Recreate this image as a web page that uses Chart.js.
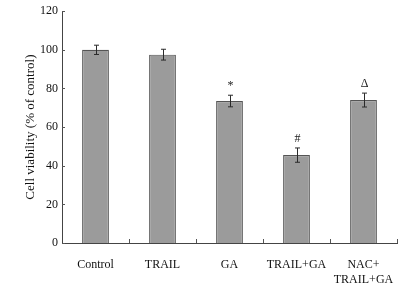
<!DOCTYPE html>
<html>
<head>
<meta charset="utf-8">
<script src="https://cdn.jsdelivr.net/npm/chart.js@4/dist/chart.umd.min.js"></script>
<style>
  html, body { margin: 0; padding: 0; background: #fff; }
  #wrap { width: 413px; height: 284px; }
</style>
</head>
<body>
<div id="wrap"><canvas id="viability"></canvas></div>
<script>
// Cell viability data
const groups = ["Control", "TRAIL", "GA", "TRAIL+GA", ["NAC+", "TRAIL+GA"]];
const viability = [100, 97.5, 73.5, 45.5, 74];
const viabilityErr = [2.4, 2.8, 3, 3.7, 3.6];
const marks = ["", "", "*", "#", "\u0394"];
const yTicks = [0, 20, 40, 60, 80, 100, 120];

const serif = "'Liberation Serif', 'DejaVu Serif', serif";

// error bars, significance marks and inward ticks
const extras = {
	id: "extras",
	afterDatasetsDraw(chart) {
		const ctx = chart.ctx;
		const x = chart.scales.x;
		const y = chart.scales.y;
		const bars = chart.getDatasetMeta(0).data;
		ctx.save();
		ctx.strokeStyle = "#2a2a2a";
		ctx.lineWidth = 1;
		bars.forEach((bar, i) => {
			const hi = y.getPixelForValue(viability[i] + viabilityErr[i]);
			const lo = y.getPixelForValue(viability[i] - viabilityErr[i]);
			const cx = Math.round(bar.x) + 0.5;
			ctx.beginPath();
			ctx.moveTo(cx, hi);
			ctx.lineTo(cx, lo);
			ctx.moveTo(cx - 2.5, hi);
			ctx.lineTo(cx + 2.5, hi);
			ctx.moveTo(cx - 2.5, lo);
			ctx.lineTo(cx + 2.5, lo);
			ctx.stroke();
			if (marks[i]) {
				ctx.fillStyle = "#222";
				ctx.font = "12px " + serif;
				ctx.textAlign = "center";
				ctx.textBaseline = "bottom";
				ctx.fillText(marks[i], cx, hi - 3);
			}
		});
		// y ticks point into the plot
		ctx.strokeStyle = "#555";
		yTicks.forEach(v => {
			const py = Math.round(y.getPixelForValue(v)) + 0.5;
			ctx.beginPath();
			ctx.moveTo(x.left, py);
			ctx.lineTo(x.left + 3, py);
			ctx.stroke();
		});
		// x ticks at category boundaries
		const step = (x.right - x.left) / groups.length;
		for (let i = 1; i <= groups.length; i++) {
			const px = Math.round(x.left + step * i) + 0.5;
			ctx.beginPath();
			ctx.moveTo(px, y.bottom);
			ctx.lineTo(px, y.bottom - 4);
			ctx.stroke();
		}
		ctx.restore();
	}
};

new Chart(document.getElementById("viability"), {
	type: "bar",
	data: {
		labels: groups,
		datasets: [{
			data: viability,
			backgroundColor: "#9b9b9b",
			borderColor: "#555555",
			borderWidth: 1.2,
			barPercentage: 0.4,
			categoryPercentage: 1
		}]
	},
	options: {
		responsive: true,
		maintainAspectRatio: false,
		animation: false,
		layout: { padding: { top: 4, right: 16, left: 0, bottom: 0 } },
		plugins: {
			legend: { display: false },
			tooltip: { enabled: false }
		},
		scales: {
			x: {
				grid: { display: false, drawTicks: false },
				border: { display: true, color: "#444", width: 1 },
				ticks: {
					color: "#111",
					font: { family: serif, size: 12 },
					padding: 15,
					maxRotation: 0,
					autoSkip: false
				},
				afterFit(scale) { scale.height = 41; }
			},
			y: {
				min: 0,
				max: 120,
				grid: { display: false, drawTicks: false },
				border: { display: true, color: "#444", width: 1 },
				ticks: {
					stepSize: 20,
					color: "#111",
					font: { family: serif, size: 12 },
					padding: 4
				},
				title: {
					display: true,
					text: "Cell viability (% of control)",
					color: "#111",
					font: { family: serif, size: 13 },
					padding: { top: 23, bottom: 0 }
				},
				afterFit(scale) { scale.width = 62; }
			}
		}
	},
	plugins: [extras]
});
</script>
</body>
</html>
